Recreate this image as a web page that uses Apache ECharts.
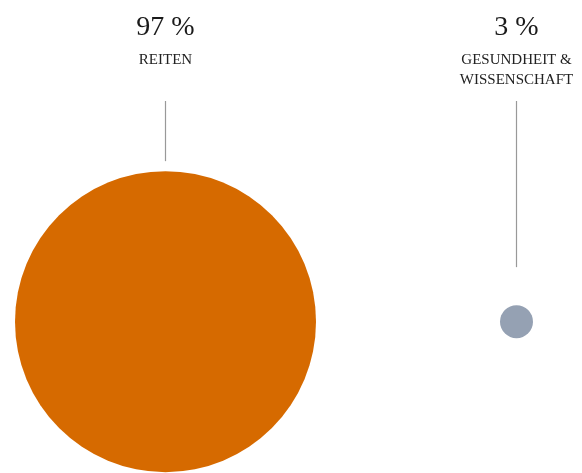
<!DOCTYPE html>
<html>
<head>
<meta charset="utf-8">
<style>
  html, body { margin: 0; padding: 0; background: #fff; }
  #chart { width: 582px; height: 473px; }
</style>
<script src="https://cdn.jsdelivr.net/npm/echarts@6/dist/echarts.min.js"></script>
</head>
<body>
<div id="chart"></div>
<script>
// Anteile in Prozent
const categories = ['REITEN', 'GESUNDHEIT &\nWISSENSCHAFT']
const shares = [97, 3]
const colors = ['#d66a00', '#95a1b3']

// leader line: distance between line end and circle top (px)
const leaderGap = [10, 38]

const chart = echarts.init(document.getElementById('chart'))

chart.setOption({
  animation: false,
  grid: { left: 165.5, right: 65.5, top: 0, bottom: 0 },
  xAxis: {
    type: 'category',
    data: categories,
    boundaryGap: false,
    show: false
  },
  yAxis: {
    type: 'value',
    min: -1,
    max: 1,
    show: false
  },
  visualMap: {
    show: false,
    seriesIndex: 0,
    dimension: 2,
    min: 3,
    max: 97,
    inRange: { symbolSize: [33, 301] }
  },
  series: [{
    type: 'scatter',
    data: shares.map((v, i) => ({
      value: [i, -0.36, v],
      itemStyle: { color: colors[i], opacity: 1 }
    })),
    silent: true
  }, {
    // Beschriftung + Linie
    type: 'custom',
    data: shares.map((v, i) => [i, v]),
    silent: true,
    renderItem: (params, api) => {
      const i = params.dataIndex
      const x = api.coord([api.value(0), 0])[0]
      const cy = api.coord([0, -0.36])[1]
      const r = (33 + (api.value(1) - 3) / (97 - 3) * (301 - 33)) / 2
      return {
        type: 'group',
        children: [{
          type: 'line',
          shape: { x1: x, y1: 101, x2: x, y2: cy - r - leaderGap[i] },
          style: { stroke: '#999', lineWidth: 1.2 }
        }, {
          type: 'text',
          x: x,
          y: 14,
          style: {
            text: api.value(1) + ' %',
            fontFamily: 'Liberation Serif',
            fontSize: 28,
            fill: '#1a1a1a',
            align: 'center',
            verticalAlign: 'top'
          }
        }, {
          type: 'text',
          x: x,
          y: 50,
          style: {
            text: categories[i],
            fontFamily: 'Liberation Serif',
            fontSize: 15,
            lineHeight: 20,
            fill: '#222',
            align: 'center',
            verticalAlign: 'top'
          }
        }]
      }
    }
  }]
})
</script>
</body>
</html>
